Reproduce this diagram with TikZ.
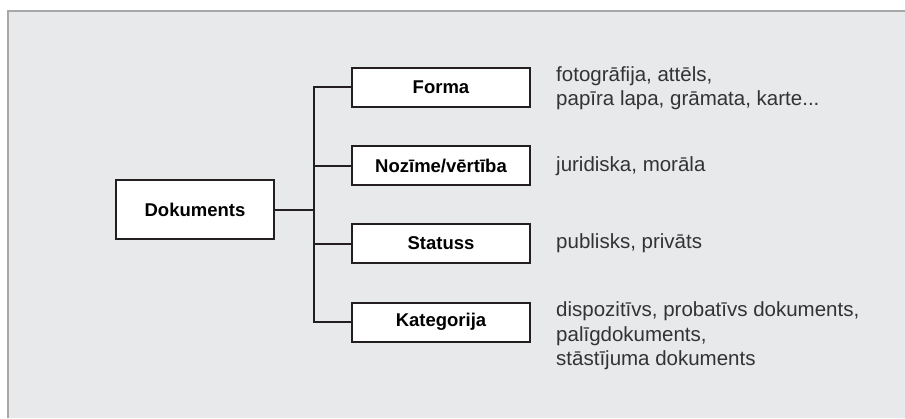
\documentclass[tikz,border=0pt]{standalone}
\usepackage{fontspec}
\setmainfont{Liberation Sans}
\begin{document}
\begin{tikzpicture}[x=1pt,y=-1pt,
  catbox/.style={draw=boxline,line width=2pt,fill=white,minimum width=178pt,minimum height=39pt,inner sep=0pt,
    font=\fontsize{18.5}{22}\selectfont\bfseries,text=black},
  rootbox/.style={catbox,minimum width=158pt,minimum height=59pt},
  conn/.style={draw=boxline,line width=2pt,line join=miter},
  note/.style={anchor=west,align=left,inner sep=0pt,text=notegray,font=\fontsize{20.5}{24.5}\selectfont}]
\definecolor{panelgray}{HTML}{E8E9EB}
\definecolor{framegray}{HTML}{A8A8A8}
\definecolor{boxline}{HTML}{231F20}
\definecolor{notegray}{HTML}{333333}
\useasboundingbox (0,0) rectangle (905,418);
% panel with its top and left rule
\fill[panelgray] (8,11) rectangle (905,418);
\draw[framegray,line width=2.5pt] (8,418) -- (8,11) -- (905,11);

% boxes
\node[rootbox] (dok) at (195,209.5) {Dokuments};
\node[catbox] (forma) at (441,87) {Forma};
\node[catbox] (noz) at (441,165.5) {Nozīme/vērtība};
\node[catbox] (stat) at (441,243.5) {Statuss};
\node[catbox] (kat) at (441,322) {Kategorija};

% trunk
\coordinate (jt) at (313.5,0);
\draw[conn] (forma.west) -- (forma.west -| jt) -- (kat.west -| jt) -- (kat.west);
\draw[conn] (noz.west) -- (noz.west -| jt);
\draw[conn] (stat.west) -- (stat.west -| jt);
\draw[conn] (dok.east) -- (dok.east -| jt);

% descriptions
\node[note] (tforma) at (556,88) {fotogrāfija, attēls,\\papīra lapa, grāmata, karte...};
\node[note] (tnoz) at (556,166) {juridiska, morāla};
\node[note] (tstat) at (556,243.5) {publisks, privāts};
\node[note] (tkat) at (556,336) {dispozitīvs, probatīvs dokuments,\\palīgdokuments,\\stāstījuma dokuments};
\end{tikzpicture}
\end{document}
